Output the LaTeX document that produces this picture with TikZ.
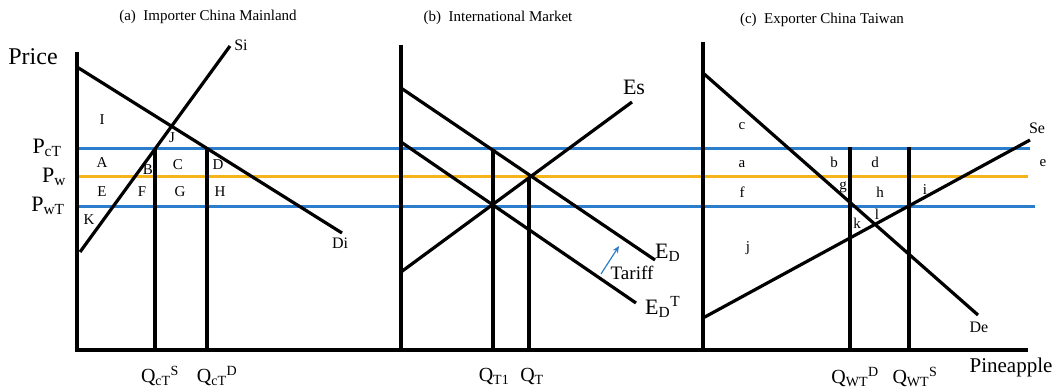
\documentclass[tikz,border=0pt]{standalone}
\usepackage{fontspec}
\setmainfont{Liberation Serif}
\usetikzlibrary{arrows.meta}
\definecolor{pblue}{RGB}{45,125,205}
\definecolor{porange}{RGB}{245,180,25}
\begin{document}
\begin{tikzpicture}[x=1pt,y=-1pt,
  curve/.style={line width=3.2pt,black},
  axisline/.style={line width=3.4pt,black},
  blueline/.style={line width=3pt,pblue},
  orangeline/.style={line width=3pt,porange},
  lbl/.style={inner sep=0pt,font=\fontsize{15}{15}\selectfont},
  ttl/.style={inner sep=0pt,font=\fontsize{15}{15}\selectfont},
  qlbl/.style={inner sep=0pt,font=\fontsize{20}{20}\selectfont},
  plbl/.style={inner sep=0pt,font=\fontsize{22}{22}\selectfont},
  clbl/.style={inner sep=0pt,font=\fontsize{16}{16}\selectfont}]
\useasboundingbox (0,0) rectangle (1062,390);
% coordinates
\coordinate (aTop) at (77,52); \coordinate (O) at (77,350); \coordinate (Xend) at (1028,350);
\coordinate (bTop) at (401,45); \coordinate (bBot) at (401,350);
\coordinate (cTop) at (703,42); \coordinate (cBot) at (703,350);
\coordinate (pcT0) at (77,149); \coordinate (pcT1) at (1030,149);
\coordinate (pw0) at (77,177); \coordinate (pw1) at (1028,177);
\coordinate (pwT0) at (77,206); \coordinate (pwT1) at (1035,206);
% price lines
\draw[blueline] (pcT0) -- (pcT1);
\draw[orangeline] (pw0) -- (pw1);
\draw[blueline] (pwT0) -- (pwT1);
% axes
\draw[axisline] (aTop) -- (O) -- (Xend);
\draw[axisline] (bTop) -- (bBot);
\draw[axisline] (cTop) -- (cBot);
% panel a
\coordinate (di0) at (77,67); \coordinate (di1) at (342,233);
\coordinate (si0) at (80,252); \coordinate (si1) at (230,46);
\draw[curve] (di0) -- (di1);
\draw[curve] (si0) -- (si1);
\coordinate (qs0) at (155,149); \coordinate (qs1) at (155,350);
\coordinate (qd0) at (207,149); \coordinate (qd1) at (207,350);
\draw[curve] (qs0) -- (qs1);
\draw[curve] (qd0) -- (qd1);
\node[ttl] (ta) at (208,17) {(a)\ \ Importer China Mainland};
\node[plbl,font=\fontsize{24}{24}\selectfont] (price) at (33,57) {Price};
\node[plbl] (lpcT) at (47,148) {P\textsubscript{cT}};
\node[plbl] (lpw) at (54,177) {P\textsubscript{w}};
\node[plbl] (lpwT) at (48,206) {P\textsubscript{wT}};
\node[clbl] (lsi) at (241,45) {Si};
\node[clbl] (ldi) at (340,243) {Di};
\node[lbl] (lI) at (102,120) {I};
\node[lbl] (lJ) at (172,138) {J};
\node[lbl] (lA) at (102,163) {A};
\node[lbl] (lB) at (148,170) {B};
\node[lbl] (lC) at (178,165) {C};
\node[lbl] (lD) at (218,165) {D};
\node[lbl] (lE) at (102,192) {E};
\node[lbl] (lF) at (142,192) {F};
\node[lbl] (lG) at (180,192) {G};
\node[lbl] (lH) at (220,192) {H};
\node[lbl] (lK) at (89,220) {K};
\node[qlbl] (lqs) at (160,376) {Q\textsubscript{cT}\textsuperscript{S}};
\node[qlbl] (lqd) at (217,376) {Q\textsubscript{cT}\textsuperscript{D}};
% panel b
\coordinate (ed0) at (401,88); \coordinate (ed1) at (655,260);
\coordinate (edt0) at (401,142); \coordinate (edt1) at (636,303);
\coordinate (es0) at (401,272); \coordinate (es1) at (632,102);
\draw[curve] (ed0) -- (ed1);
\draw[curve] (edt0) -- (edt1);
\draw[curve] (es0) -- (es1);
\coordinate (qt10) at (493,149); \coordinate (qt11) at (493,350);
\coordinate (qt0) at (529,177); \coordinate (qt1) at (529,350);
\draw[curve] (qt10) -- (qt11);
\draw[curve] (qt0) -- (qt1);
\coordinate (tar0) at (601,274); \coordinate (tar1) at (619,246);
\draw[pblue,line width=1.2pt,-{Stealth[length=7pt,width=6pt]}] (tar0) -- (tar1);
\node[ttl] (tb) at (498,18) {(b)\ \ International Market};
\node[plbl] (les) at (634,87) {Es};
\node[plbl,anchor=west] (led) at (655,253) {E\textsubscript{D}};
\node[plbl,anchor=west] (ledt) at (645,307) {E\textsubscript{D}\textsuperscript{T}};
\node[qlbl,font=\fontsize{19}{19}\selectfont] (ltar) at (632,273) {Tariff};
\node[qlbl] (lqt1) at (494,376) {Q\textsubscript{T1}};
\node[qlbl] (lqt) at (532,376) {Q\textsubscript{T}};
% panel c
\coordinate (de0) at (703,73); \coordinate (de1) at (978,315);
\coordinate (se0) at (703,318); \coordinate (se1) at (1030,140);
\draw[curve] (de0) -- (de1);
\draw[curve] (se0) -- (se1);
\coordinate (qwd0) at (850,147); \coordinate (qwd1) at (850,350);
\coordinate (qws0) at (909,147); \coordinate (qws1) at (909,350);
\draw[curve] (qwd0) -- (qwd1);
\draw[curve] (qws0) -- (qws1);
\node[ttl] (tc) at (822,20) {(c)\ \ Exporter China Taiwan};
\node[clbl] (lse) at (1037,128) {Se};
\node[clbl] (lde) at (979,327) {De};
\node[lbl] (lc) at (742,126) {c};
\node[lbl] (la) at (742,164) {a};
\node[lbl] (lb) at (834,162) {b};
\node[lbl] (ld) at (875,162) {d};
\node[lbl] (le) at (1043,163) {e};
\node[lbl] (lf) at (742,192) {f};
\node[lbl] (lg) at (843,187) {g};
\node[lbl] (lh) at (880,192) {h};
\node[lbl] (li) at (925,190) {i};
\node[lbl] (lk) at (857,223) {k};
\node[lbl] (ll) at (877,214) {l};
\node[lbl] (lj) at (748,248) {j};
\node[qlbl] (lqwd) at (855,377) {Q\textsubscript{WT}\textsuperscript{D}};
\node[qlbl] (lqws) at (915,377) {Q\textsubscript{WT}\textsuperscript{S}};
\node[plbl,font=\fontsize{21}{21}\selectfont] (lpine) at (1011,367) {Pineapple};
\end{tikzpicture}
\end{document}
